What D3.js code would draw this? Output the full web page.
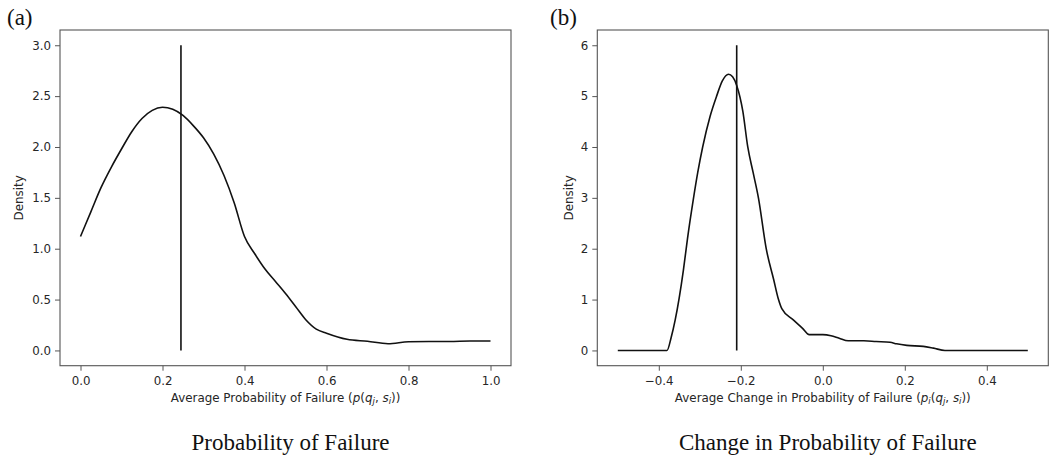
<!DOCTYPE html>
<html>
<head>
<meta charset="utf-8">
<script src="https://cdn.jsdelivr.net/npm/d3@7"></script>
<style>
  html, body { margin: 0; padding: 0; background: #fff; }
  svg { display: block; }
  .tick text { font-family: "DejaVu Sans", sans-serif; font-size: 11.8px; fill: #262626; }
  .tick line { stroke: #555; stroke-width: 1; }
</style>
</head>
<body>
<svg id="chart" width="1051" height="458"></svg>
<script>
// Kernel density estimate of the average probability of failure
const failureX = [0, 0.025, 0.05, 0.075, 0.1, 0.125, 0.15, 0.175, 0.2, 0.225, 0.25, 0.275, 0.3, 0.325, 0.35, 0.375, 0.4, 0.425, 0.45, 0.475, 0.5, 0.525, 0.55, 0.575, 0.6, 0.65, 0.7, 0.75, 0.8, 0.85, 0.9, 0.95, 1.0];
const failureDensity = [1.12, 1.36, 1.6, 1.8, 1.98, 2.15, 2.28, 2.36, 2.39, 2.37, 2.31, 2.21, 2.09, 1.93, 1.72, 1.45, 1.12, 0.95, 0.8, 0.68, 0.56, 0.43, 0.3, 0.21, 0.17, 0.11, 0.09, 0.066, 0.085, 0.088, 0.088, 0.093, 0.093];
const failureMean = 0.245;

// Kernel density estimate of the average change in probability of failure
const changeX = [-0.5, -0.45, -0.4, -0.38, -0.37, -0.36, -0.34, -0.33, -0.316, -0.305, -0.293, -0.275, -0.259, -0.245, -0.23, -0.22, -0.21, -0.195, -0.183, -0.17, -0.157, -0.138, -0.12, -0.108, -0.1, -0.072, -0.05, -0.033, -0.02, 0, 0.02, 0.04, 0.062, 0.1, 0.13, 0.164, 0.18, 0.205, 0.245, 0.27, 0.298, 0.35, 0.4, 0.45, 0.5];
const changeDensity = [0, 0, 0, 0, 0.25, 0.6, 1.58, 2.2, 2.96, 3.5, 4.0, 4.6, 5.0, 5.3, 5.43, 5.38, 5.21, 4.7, 4.0, 3.5, 3.0, 2.0, 1.4, 1.0, 0.82, 0.6, 0.44, 0.31, 0.31, 0.31, 0.29, 0.24, 0.19, 0.19, 0.175, 0.16, 0.13, 0.1, 0.08, 0.045, 0, 0, 0, 0, 0];
const changeMean = -0.21;

// Tick values
const failureXTicks = [0, 0.2, 0.4, 0.6, 0.8, 1.0];
const failureYTicks = [0, 0.5, 1.0, 1.5, 2.0, 2.5, 3.0];
const changeXTicks = [-0.4, -0.2, 0, 0.2, 0.4];
const changeYTicks = [0, 1, 2, 3, 4, 5, 6];

const svg = d3.select("#chart");
const plotTop = 30, plotBottom = 365.7;
const labelSize = 11.9;

const panels = [
  {
    tag: "(a)", caption: "Probability of Failure",
    left: 60, right: 511,
    xDomain: [-0.05, 1.05], yDomain: [-0.15, 3.15],
    xs: failureX, ys: failureDensity, mean: failureMean, meanTop: 3.0,
    xTicks: failureXTicks, yTicks: failureYTicks,
    xFmt: d3.format(".1f"), yFmt: d3.format(".1f"),
    labelText: "Average Probability of Failure (",
    math: [["p", "it"], ["(", ""], ["q", "it"], ["j", "sub"], [", ", ""], ["s", "it"], ["i", "sub"], ["))", ""]],
    tagX: 7, yLabelX: 19
  },
  {
    tag: "(b)", caption: "Change in Probability of Failure",
    left: 597.3, right: 1048.3,
    xDomain: [-0.55, 0.55], yDomain: [-0.3, 6.3],
    xs: changeX, ys: changeDensity, mean: changeMean, meanTop: 6.0,
    xTicks: changeXTicks, yTicks: changeYTicks,
    xFmt: d => d3.format(".1f")(d).replace("-", "\u2212"), yFmt: d3.format("d"),
    labelText: "Average Change in Probability of Failure (",
    math: [["p", "it"], ["i", "sub"], ["(", ""], ["q", "it"], ["j", "sub"], [", ", ""], ["s", "it"], ["i", "sub"], ["))", ""]],
    tagX: 550, yLabelX: 569
  }
];

panels.forEach(p => {
  const x = d3.scaleLinear().domain(p.xDomain).range([p.left, p.right]);
  const y = d3.scaleLinear().domain(p.yDomain).range([plotBottom, plotTop]);
  const g = svg.append("g");

  // axes
  const gx = g.append("g").attr("transform", `translate(0,${plotBottom})`)
    .call(d3.axisBottom(x).tickValues(p.xTicks).tickFormat(p.xFmt).tickSize(5).tickPadding(4));
  const gy = g.append("g").attr("transform", `translate(${p.left},0)`)
    .call(d3.axisLeft(y).tickValues(p.yTicks).tickFormat(p.yFmt).tickSize(5).tickPadding(4));
  gx.select(".domain").remove();
  gy.select(".domain").remove();
  gx.selectAll(".tick text").attr("dy", "0.88em");

  // frame
  g.append("rect")
    .attr("x", p.left).attr("y", plotTop)
    .attr("width", p.right - p.left).attr("height", plotBottom - plotTop)
    .attr("fill", "none").attr("stroke", "#555").attr("stroke-width", 1.1);

  // density curve
  const pts = p.xs.map((v, i) => [v, p.ys[i]]);
  g.append("path")
    .datum(pts)
    .attr("fill", "none").attr("stroke", "#111").attr("stroke-width", 1.6)
    .attr("stroke-linejoin", "round")
    .attr("d", d3.line().x(d => x(d[0])).y(d => y(d[1])).curve(d3.curveMonotoneX));

  // mean marker
  g.append("line")
    .attr("x1", x(p.mean)).attr("x2", x(p.mean))
    .attr("y1", y(0)).attr("y2", y(p.meanTop))
    .attr("stroke", "#111").attr("stroke-width", 1.6);

  // x label with math
  const cx = (p.left + p.right) / 2;
  const xl = g.append("text")
    .attr("x", cx).attr("y", 401.5)
    .attr("text-anchor", "middle")
    .attr("font-family", "DejaVu Sans, sans-serif").attr("font-size", labelSize)
    .attr("fill", "#262626");
  xl.append("tspan").text(p.labelText);
  let lowered = false;
  p.math.forEach(([t, kind]) => {
    const ts = xl.append("tspan").text(t);
    if (kind === "it") ts.attr("font-style", "italic");
    if (kind === "sub") {
      ts.attr("font-style", "italic").attr("font-size", 8.5).attr("dy", 2.5);
      lowered = true;
    } else if (lowered) {
      ts.attr("dy", -2.5);
      lowered = false;
    }
  });

  // y label
  g.append("text")
    .attr("transform", `translate(${p.yLabelX + 4},${(plotTop + plotBottom) / 2}) rotate(-90)`)
    .attr("text-anchor", "middle")
    .attr("font-family", "DejaVu Sans, sans-serif").attr("font-size", labelSize)
    .attr("fill", "#262626")
    .text("Density");

  // panel tag
  g.append("text")
    .attr("x", p.tagX).attr("y", 25)
    .attr("font-family", "Liberation Serif, Times New Roman, serif").attr("font-size", 23)
    .attr("fill", "#111")
    .text(p.tag);

  // caption
  g.append("text")
    .attr("x", cx + 5).attr("y", 450)
    .attr("text-anchor", "middle")
    .attr("font-family", "Liberation Serif, Times New Roman, serif").attr("font-size", 23)
    .attr("fill", "#111")
    .text(p.caption);
});
</script>
</body>
</html>
